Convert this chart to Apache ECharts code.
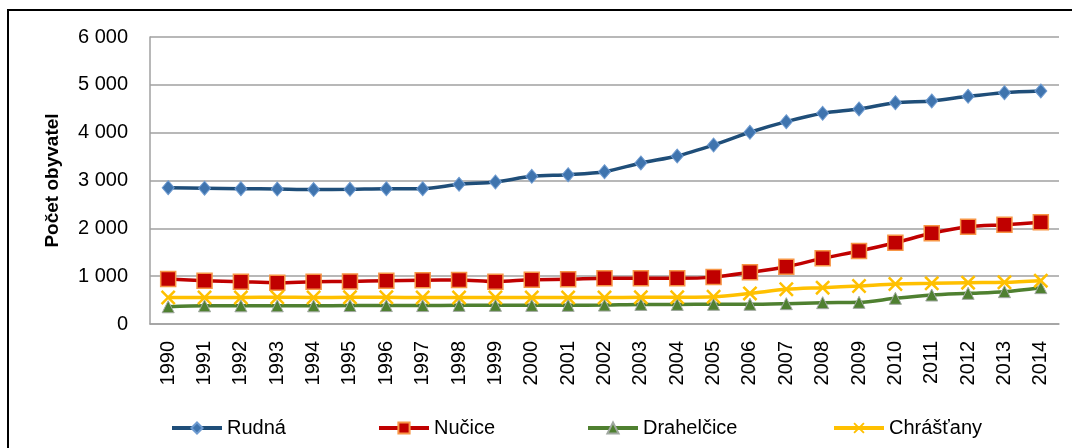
<!DOCTYPE html>
<html>
<head>
<meta charset="utf-8">
<script src="https://cdn.jsdelivr.net/npm/echarts@6/dist/echarts.min.js"></script>
<style>html,body{margin:0;padding:0;background:#fff;}#c{width:1072px;height:448px;}</style>
</head>
<body>
<div id="c"></div>
<script>
var years = ['1990','1991','1992','1993','1994','1995','1996','1997','1998','1999','2000','2001','2002','2003','2004','2005','2006','2007','2008','2009','2010','2011','2012','2013','2014'];
var rudna = [2850,2840,2830,2820,2810,2816,2829,2829,2921,2969,3088,3121,3184,3366,3512,3742,4008,4230,4405,4495,4627,4662,4760,4836,4871];
var nucice = [941,906,885,864,885,890,905,915,920,885,927,934,955,955,955,980,1080,1198,1373,1526,1700,1896,2034,2076,2126];
var drahelcice = [360,380,380,380,380,385,385,385,390,390,390,390,395,410,410,412,412,425,446,453,537,606,641,676,760];
var chrastany = [555,555,555,560,555,558,558,555,555,555,555,555,555,558,560,570,640,725,760,795,836,850,864,871,906];
var seriesNames = ['Rudná','Nučice','Drahelčice','Chrášťany'];
var yTicks = {min:0, max:6000, interval:1000};

var font = 'Liberation Sans';
var xPath = 'path://M0,1.2L1.2,0L5,3.8L8.8,0L10,1.2L6.2,5L10,8.8L8.8,10L5,6.2L1.2,10L0,8.8L3.8,5Z';

function fmt(v){ return v === 0 ? '0' : String(v).replace(/\B(?=(\d{3})+(?!\d))/g, ' '); }

var chart = echarts.init(document.getElementById('c'), null, {renderer:'canvas'});
function legend(name, left){
  return {data:[name], left:left, top:413, itemWidth:50, itemHeight:14, itemGap:0,
    lineStyle:{width:4},
    textStyle:{fontFamily:font, fontSize:20, color:'#000'}};
}
chart.setOption({
  animation:false,
  backgroundColor:'#fff',
  graphic:[{type:'rect', shape:{x:8, y:10, width:1100, height:480}, style:{fill:'none', stroke:'#000', lineWidth:2}, silent:true}],
  grid:{left:150, right:13, top:37, bottom:124},
  legend:[legend(seriesNames[0],165), legend(seriesNames[1],372), legend(seriesNames[2],581), legend(seriesNames[3],827)],
  xAxis:{type:'category', data:years, boundaryGap:true,
    axisLine:{show:true, lineStyle:{color:'#A0A0A0', width:1.5}},
    axisTick:{show:false},
    axisLabel:{rotate:90, interval:0, fontFamily:font, fontSize:20, color:'#000', margin:17}},
  yAxis:{type:'value', min:yTicks.min, max:yTicks.max, interval:yTicks.interval,
    name:'Počet obyvatel', nameLocation:'middle', nameGap:88,
    nameTextStyle:{fontFamily:font, fontSize:19, fontWeight:'bold', color:'#000'},
    axisLine:{show:true, lineStyle:{color:'#A0A0A0', width:1.5}},
    axisTick:{show:false},
    splitLine:{lineStyle:{color:'#A0A0A0', width:1.5}},
    axisLabel:{fontFamily:font, fontSize:20, color:'#000', margin:22, formatter:fmt}},
  series:[
    {name:seriesNames[0], type:'line', data:rudna, smooth:0.3, symbol:'diamond', symbolSize:[12,14],
      lineStyle:{color:'#1F4E79', width:3.5}, itemStyle:{color:'#3F74AE', borderColor:'#6D9AD0', borderWidth:1}},
    {name:seriesNames[1], type:'line', data:nucice, smooth:0.3, symbol:'rect', symbolSize:15,
      lineStyle:{color:'#C00000', width:3.5}, itemStyle:{color:'#C00000', borderColor:'#F79646', borderWidth:1.5}},
    {name:seriesNames[2], type:'line', data:drahelcice, smooth:0.3, symbol:'triangle', symbolSize:[12,12],
      lineStyle:{color:'#4F8030', width:3.5}, itemStyle:{color:'#4F8030', borderColor:'#A0A8A0', borderWidth:1}},
    {name:seriesNames[3], type:'line', data:chrastany, smooth:0.3, symbol:xPath, symbolSize:15,
      lineStyle:{color:'#FFC000', width:3.5}, itemStyle:{color:'#FFC000'}}
  ]
});
</script>
</body>
</html>
